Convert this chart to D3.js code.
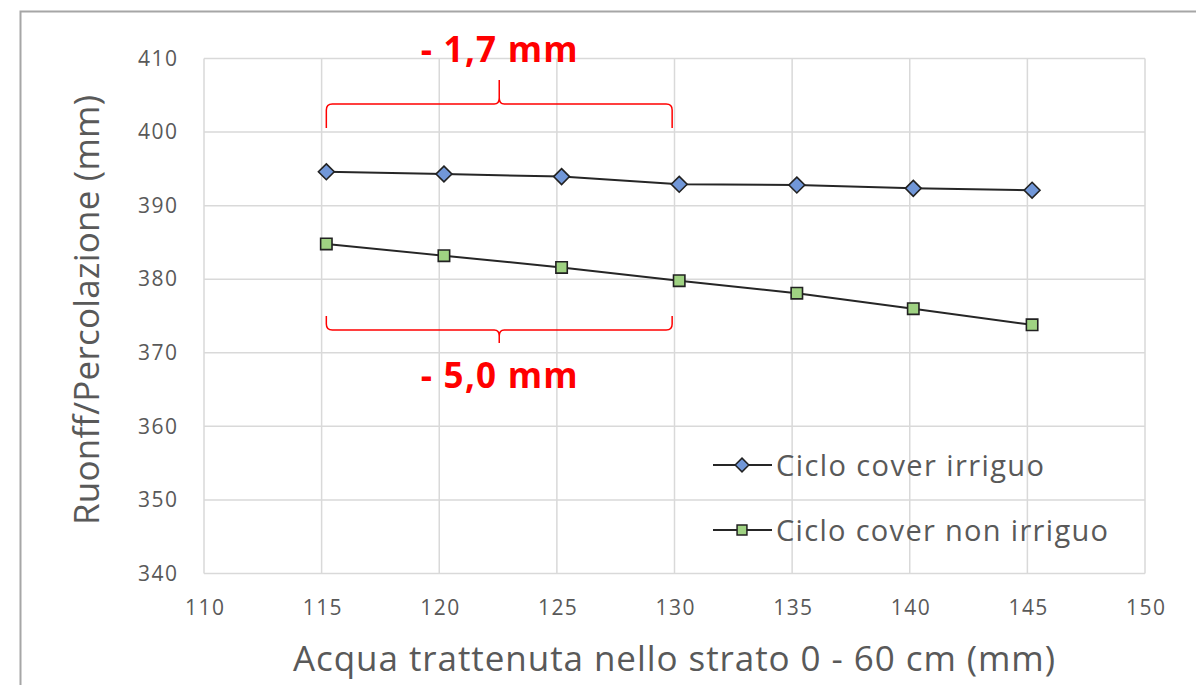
<!DOCTYPE html>
<html>
<head>
<meta charset="utf-8">
<script src="https://cdn.jsdelivr.net/npm/d3@7"></script>
<style>
  html, body { margin: 0; padding: 0; background: #fff; }
  svg { display: block; }
  text { font-family: "Open Sans", Lato, sans-serif; }
</style>
</head>
<body>
<svg id="chart" width="1196" height="685"></svg>
<script>
// ---- data ----
const xValues = [115.2, 120.2, 125.2, 130.2, 135.2, 140.15, 145.2];
const irriguo = [394.6, 394.3, 393.95, 392.9, 392.8, 392.35, 392.1];
const nonIrriguo = [384.8, 383.2, 381.6, 379.8, 378.1, 376.0, 373.8];
const seriesNames = ["Ciclo cover irriguo", "Ciclo cover non irriguo"];
const xTicks = [110, 115, 120, 125, 130, 135, 140, 145, 150];
const yTicks = [340, 350, 360, 370, 380, 390, 400, 410];
const annotations = ["- 1,7 mm", "- 5,0 mm"];
const xTitle = "Acqua trattenuta nello strato 0 - 60 cm (mm)";
const yTitle = "Ruonff/Percolazione (mm)";

const svg = d3.select("#chart");
const W = 1196, H = 685;
const plot = { left: 204, right: 1145, top: 58.5, bottom: 573.5 };

const x = d3.scaleLinear().domain([110, 150]).range([plot.left, plot.right]);
const y = d3.scaleLinear().domain([340, 410]).range([plot.bottom, plot.top]);

// chart frame
svg.append("path")
  .attr("d", `M20.5,${H} L20.5,11.5 L${W},11.5`)
  .attr("fill", "none").attr("stroke", "#a6a6a6").attr("stroke-width", 2);

// gridlines
const grid = svg.append("g");
grid.selectAll("line.v").data(xTicks).join("line")
  .attr("x1", d => x(d)).attr("x2", d => x(d))
  .attr("y1", plot.top).attr("y2", plot.bottom)
  .attr("stroke", "#d9d9d9").attr("stroke-width", 1.5);
grid.selectAll("line.h").data(yTicks).join("line")
  .attr("x1", plot.left).attr("x2", plot.right)
  .attr("y1", d => y(d)).attr("y2", d => y(d))
  .attr("stroke", "#d9d9d9").attr("stroke-width", 1.5);

// axes (labels only)
const xAxis = svg.append("g").attr("transform", `translate(0,${plot.bottom + 27})`)
  .call(d3.axisBottom(x).tickValues(xTicks).tickSize(0).tickPadding(0));
const yAxis = svg.append("g").attr("transform", `translate(${plot.left - 27},0)`)
  .call(d3.axisLeft(y).tickValues(yTicks).tickSize(0).tickPadding(0));
[xAxis, yAxis].forEach(a => {
  a.select(".domain").remove();
  a.selectAll("text").attr("fill", "#595959").style("font-size", "21px")
    .style("font-family", "'Open Sans', sans-serif")
    .attr("textLength", 39).attr("lengthAdjust", "spacing");
});
xAxis.selectAll("text").attr("dy", "0.71em");

// titles
svg.append("text").text(xTitle)
  .attr("x", 674).attr("y", 671).attr("text-anchor", "middle")
  .attr("textLength", 762).attr("lengthAdjust", "spacing")
  .attr("fill", "#595959").style("font-size", "35px");
svg.append("text").text(yTitle)
  .attr("transform", "translate(99,310) rotate(-90)").attr("text-anchor", "middle")
  .attr("textLength", 430).attr("lengthAdjust", "spacing")
  .attr("fill", "#595959").style("font-size", "35px");

// series
const series = [
  { name: seriesNames[0], values: irriguo, symbol: d3.symbolDiamond2, fill: "#7197d8", size: 160, w: 268 },
  { name: seriesNames[1], values: nonIrriguo, symbol: d3.symbolSquare2, fill: "#9fd282", size: 165, w: 332 }
];
const line = d3.line().x(d => x(d[0])).y(d => y(d[1]));
series.forEach(s => {
  const pts = xValues.map((xv, i) => [xv, s.values[i]]);
  svg.append("path").datum(pts).attr("d", line)
    .attr("fill", "none").attr("stroke", "#262626").attr("stroke-width", 2);
  svg.append("g").selectAll("path").data(pts).join("path")
    .attr("transform", d => `translate(${x(d[0])},${y(d[1])})`)
    .attr("d", d3.symbol(s.symbol, s.size))
    .attr("fill", s.fill).attr("stroke", "#222").attr("stroke-width", 1.6);
});

// legend
series.forEach((s, i) => {
  const ly = 465 + i * 65;
  const g = svg.append("g");
  g.append("line").attr("x1", 713).attr("x2", 772).attr("y1", ly).attr("y2", ly)
    .attr("stroke", "#262626").attr("stroke-width", 2);
  g.append("path").attr("transform", `translate(742,${ly})`)
    .attr("d", d3.symbol(s.symbol, s.size * 0.75))
    .attr("fill", s.fill).attr("stroke", "#222").attr("stroke-width", 1.5);
  g.append("text").text(s.name).attr("x", 776).attr("y", ly + 11)
    .attr("textLength", s.w).attr("lengthAdjust", "spacing")
    .attr("fill", "#595959").style("font-size", "29px");
});

// brackets + annotations
function bracket(x0, x1, yEnd, yMid, yTip) {
  const xm = (x0 + x1) / 2;
  const dir = yMid < yEnd ? -1 : 1;
  const r = 6;
  return `M${x0},${yEnd} L${x0},${yMid - dir * r} Q${x0},${yMid} ${x0 + r},${yMid}` +
    ` L${xm - 5},${yMid} Q${xm},${yMid} ${xm},${yMid + dir * 6} L${xm},${yTip}` +
    ` M${xm},${yMid + dir * 6} Q${xm},${yMid} ${xm + 5},${yMid}` +
    ` L${x1 - r},${yMid} Q${x1},${yMid} ${x1},${yMid - dir * r} L${x1},${yEnd}`;
}
const bx0 = x(115.2), bx1 = x(129.9);
svg.append("path").attr("d", bracket(bx0, bx1, 128, 104, 80))
  .attr("fill", "none").attr("stroke", "#ff0000").attr("stroke-width", 1.5);
svg.append("path").attr("d", bracket(bx0, bx1, 316, 330, 343))
  .attr("fill", "none").attr("stroke", "#ff0000").attr("stroke-width", 1.5);
[[annotations[0], 62], [annotations[1], 388]].forEach(([t, ty]) => {
  svg.append("text").text(t).attr("x", (bx0 + bx1) / 2).attr("y", ty)
    .attr("text-anchor", "middle").attr("fill", "#ff0000")
    .attr("textLength", 157).attr("lengthAdjust", "spacing")
    .style("font-size", "35px").style("font-weight", "bold");
});
</script>
</body>
</html>
